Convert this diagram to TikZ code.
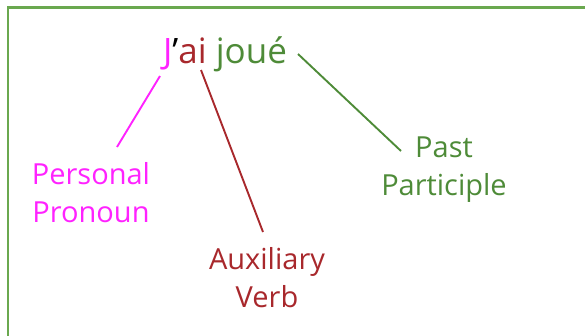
\documentclass[tikz,border=0pt]{standalone}
\usepackage{fontspec}
\setmainfont{Open Sans}
\definecolor{pinkc}{HTML}{FF22FF}
\definecolor{redc}{HTML}{A8282C}
\definecolor{greenc}{HTML}{4E8B38}
\definecolor{framec}{HTML}{6AA84F}
\begin{document}
\begin{tikzpicture}[x=1pt,y=1pt,
  lbl/.style={inner sep=0pt, align=center, font=\fontsize{29}{38}\selectfont},
  conn/.style={line width=1.9pt}]
\useasboundingbox (0,0) rectangle (585,-335);
\begin{scope}
\clip (0,0) rectangle (585,-335);
\draw[framec, line width=2.2pt] (8,-360) -- (8,-7.5) -- (600,-7.5);
\end{scope}
\node[inner sep=0pt, anchor=base, font=\fontsize{35}{40}\selectfont] (title) at (225,-63)
  {\textcolor{pinkc}{J}\textcolor{black}{’}\textcolor{redc}{ai} \textcolor{greenc}{joué}};
\node[lbl, pinkc, anchor=base] (pp) at (91,-222) {Personal\\Pronoun};
\node[lbl, redc, anchor=base] (av) at (267,-307) {Auxiliary\\Verb};
\node[lbl, greenc, anchor=base] (ptp) at (444,-195) {Past\\Participle};
\coordinate (j1) at (160,-76);
\coordinate (j2) at (117,-147);
\coordinate (a1) at (201,-70);
\coordinate (a2) at (263,-232);
\coordinate (g1) at (298,-54);
\coordinate (g2) at (401,-151);
\draw[conn, pinkc] (j1) -- (j2);
\draw[conn, redc] (a1) -- (a2);
\draw[conn, greenc] (g1) -- (g2);
\end{tikzpicture}
\end{document}
